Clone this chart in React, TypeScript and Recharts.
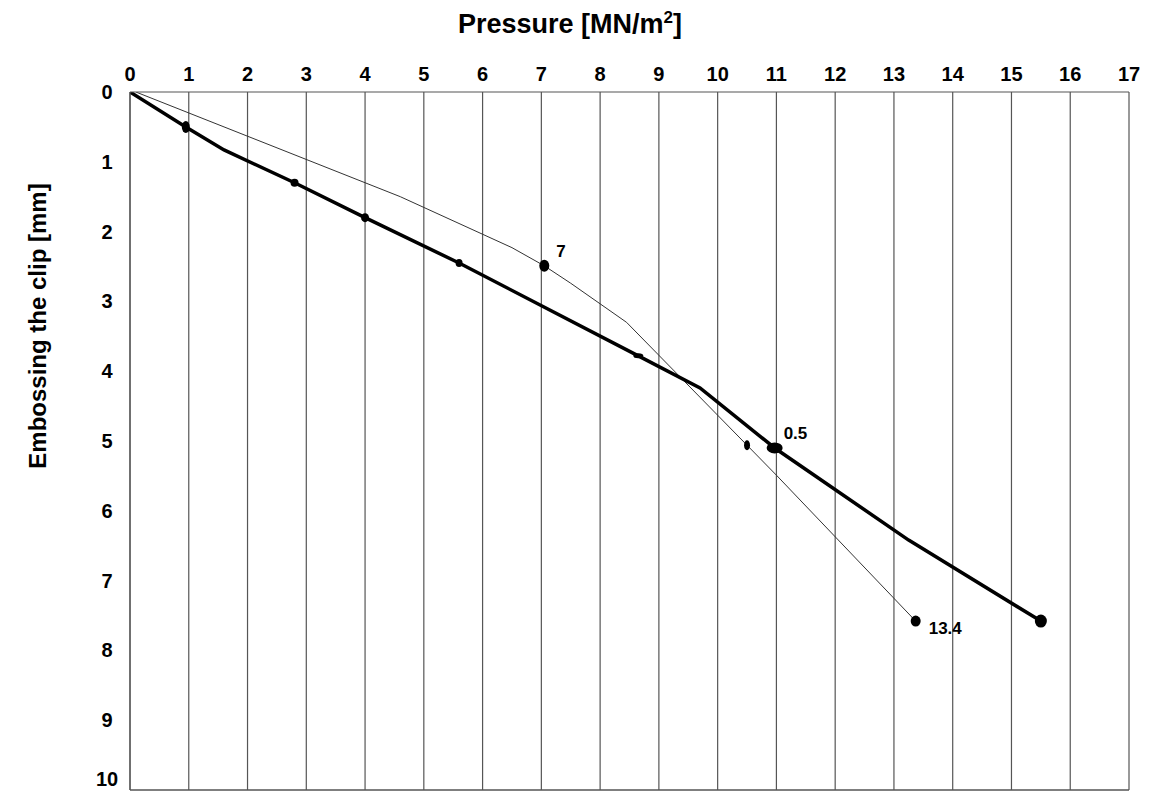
import React from "react";
import {
  CartesianGrid,
  Line,
  LineChart,
  ReferenceLine,
  XAxis,
  YAxis,
} from "recharts";

// Pressure [MN/m2] on the top axis, embossing depth [mm] running downwards.
const pressureTicks = [0, 1, 2, 3, 4, 5, 6, 7, 8, 9, 10, 11, 12, 13, 14, 15, 16, 17];
const embossTicks = [0, 1, 2, 3, 4, 5, 6, 7, 8, 9, 10];

// heavy curve
const thickPressure = [0, 0.95, 1.6, 2.8, 4.0, 5.6, 8.65, 9.7, 10.97, 13.25, 15.5];
const thickEmboss = [0, 0.5, 0.83, 1.3, 1.8, 2.45, 3.78, 4.24, 5.1, 6.42, 7.58];
const thickNotes = ["", "", "", "", "", "", "", "", "0.5", "", ""];

// light curve
const thinPressure = [0.1, 4.6, 6.5, 7.05, 7.5, 8.45, 10.5, 11.0, 13.37];
const thinEmboss = [0, 1.5, 2.23, 2.49, 2.74, 3.3, 5.06, 5.49, 7.58];
const thinNotes = ["", "", "", "7", "", "", "", "", "13.4"];

// marker sizes per point (0 = no marker), kept apart from the values
const THICK_RX = [0, 4, 0, 4, 4, 3.5, 5, 0, 8, 0, 6];
const THICK_RY = [0, 6, 0, 4, 4.5, 4, 2.5, 0, 5.5, 0, 6.5];
const THIN_RX = [0, 0, 0, 5, 0, 0, 3, 0, 5];
const THIN_RY = [0, 0, 0, 6, 0, 0, 5, 0, 5.5];

const FONT = '"Liberation Sans", Arial, sans-serif';

const thickData = thickPressure.map((p, i) => ({ p, e: thickEmboss[i], note: thickNotes[i] }));
const thinData = thinPressure.map((p, i) => ({ p, e: thinEmboss[i], note: thinNotes[i] }));

function noteOffset(note: string): [number, number] {
  // where the little number sits relative to its marker
  if (note === "13.4") return [13, 13];
  if (note === "0.5") return [9, -9];
  return [12, -9];
}

function makeDot(rx: number[], ry: number[]) {
  return (props: any) => {
    const { cx, cy, index, payload } = props;
    if (!rx[index] || cx == null || cy == null) return <g key={`dot-${index}`} />;
    const note: string = payload?.note ?? "";
    const [dx, dy] = noteOffset(note);
    return (
      <g key={`dot-${index}`}>
        <ellipse cx={cx} cy={cy} rx={rx[index]} ry={ry[index]} fill="#000" />
        {note && (
          <text
            x={cx + dx}
            y={cy + dy}
            fontFamily={FONT}
            fontWeight="bold"
            fontSize={17}
            fill="#000"
          >
            {note}
          </text>
        )}
      </g>
    );
  };
}

const PressureTick = ({ x, y, payload }: any) => (
  <text x={x} y={y} textAnchor="middle" fontFamily={FONT} fontWeight="bold" fontSize={20} fill="#000">
    {payload.value}
  </text>
);

// the bottom label sits right on the page edge, keep it inside
const EmbossTick = ({ x, y, payload }: any) => (
  <text x={x} y={Math.min(y + 7, 786)} textAnchor="middle" fontFamily={FONT} fontWeight="bold" fontSize={20} fill="#000">
    {payload.value}
  </text>
);

export default function App() {
  return (
    <div style={{ position: "absolute", left: 0, top: 0, width: 1149, height: 792, background: "#fff" }}>
      <div
        style={{
          position: "absolute",
          left: 0,
          top: 8,
          width: 1140,
          textAlign: "center",
          fontFamily: FONT,
          fontWeight: "bold",
          fontSize: 27,
          lineHeight: "32px",
          color: "#000",
        }}
      >
        Pressure [MN/m<sup style={{ fontSize: 17, lineHeight: 0 }}>2</sup>]
      </div>
      <div
        style={{
          position: "absolute",
          left: 38 - 200,
          top: 326 - 16,
          width: 400,
          textAlign: "center",
          fontFamily: FONT,
          fontWeight: "bold",
          fontSize: 24,
          lineHeight: "32px",
          color: "#000",
          transform: "rotate(-90deg)",
        }}
      >
        Embossing the clip [mm]
      </div>
      <div style={{ position: "absolute", left: 0, top: 0 }}>
        <LineChart width={1149} height={792} margin={{ top: 52, right: 20, bottom: 2, left: 70 }}>
          <CartesianGrid horizontal={false} stroke="#555" strokeWidth={1.2} />
          <XAxis
            type="number"
            dataKey="p"
            orientation="top"
            domain={[0, 17]}
            ticks={pressureTicks}
            interval={0}
            height={40}
            tickSize={0}
            tickMargin={11}
            tick={<PressureTick />}
            axisLine={{ stroke: "#555", strokeWidth: 1.2 }}
            allowDataOverflow
          />
          <YAxis
            type="number"
            dataKey="e"
            reversed
            domain={[0, 10]}
            ticks={embossTicks}
            interval={0}
            width={60}
            tickSize={0}
            tickMargin={23}
            tick={<EmbossTick />}
            axisLine={{ stroke: "#555", strokeWidth: 1.2 }}
            allowDataOverflow
          />
          <ReferenceLine y={10} stroke="#555" strokeWidth={1.5} />
          <Line
            data={thinData}
            dataKey="e"
            type="linear"
            stroke="#333"
            strokeWidth={1}
            dot={makeDot(THIN_RX, THIN_RY)}
            activeDot={false}
            isAnimationActive={false}
          />
          <Line
            data={thickData}
            dataKey="e"
            type="linear"
            stroke="#000"
            strokeWidth={3.5}
            dot={makeDot(THICK_RX, THICK_RY)}
            activeDot={false}
            isAnimationActive={false}
          />
        </LineChart>
      </div>
    </div>
  );
}
